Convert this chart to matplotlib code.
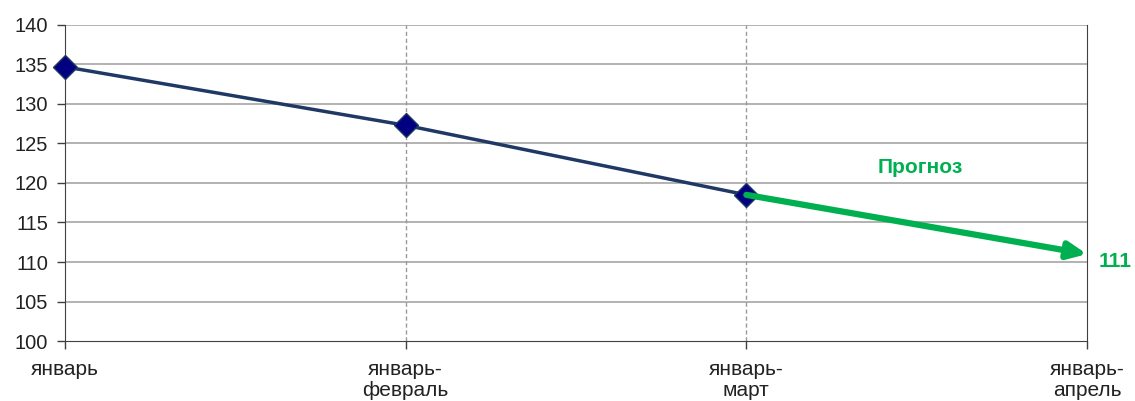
import numpy as np
import matplotlib.pyplot as plt

plt.rcParams['font.family'] = ['Liberation Sans', 'DejaVu Sans']

categories = ["январь", "январь-\nфевраль", "январь-\nмарт", "январь-\nапрель"]
values = [134.7, 127.3, 118.5]
forecast = [118.5, 111]
forecast_label = "111"
yticks = np.arange(100, 141, 5)

navy = "#1F3864"
green = "#00B050"

fig = plt.figure(figsize=(11.35, 4.01), dpi=100)
ax = fig.add_axes([0.0573, 0.1496, 0.9004, 0.7881])

x = np.arange(len(categories))

ax.plot(x[:len(values)], values, color=navy, lw=2.5, zorder=3, clip_on=False,
        marker="D", markersize=12.5, markerfacecolor="#000080",
        markeredgecolor="#1F3864", markeredgewidth=1)

ax.annotate("", xy=(x[3], forecast[1]), xytext=(x[2], forecast[0]),
            arrowprops=dict(arrowstyle="-|>,head_length=1.1,head_width=0.5",
                            color=green, lw=4.5, shrinkA=0, shrinkB=0),
            zorder=4)

ax.text(2.51, 121.9, "Прогноз", color=green, fontsize=15, fontweight="bold",
        ha="center", va="center")
ax.text(x[3] + 0.035, 110.1, forecast_label, color=green, fontsize=15,
        fontweight="bold", ha="left", va="center", clip_on=False)

ax.set_xlim(0, 3)
ax.set_ylim(100, 140)
ax.set_yticks(yticks)
ax.set_xticks(x)
ax.set_xticklabels(categories, fontsize=15, linespacing=1.1)
ax.tick_params(axis="y", labelsize=14.5, length=6, width=1, color="#404040",
               labelcolor="#222222", pad=6)
ax.tick_params(axis="x", length=6, width=1, color="#404040", pad=8,
               labelcolor="#222222")

for yv in yticks[1:]:
    ax.axhline(yv, color="#A6A6A6", lw=1.2, zorder=1)
for xv in x[1:3]:
    ax.axvline(xv, color="#999999", lw=1, ls=(0, (3, 2)), zorder=1)

ax.spines["top"].set_visible(False)
ax.spines["right"].set_color("#404040")
ax.spines["left"].set_color("#404040")
ax.spines["bottom"].set_color("#404040")

fig.savefig("out.png", dpi=100)
